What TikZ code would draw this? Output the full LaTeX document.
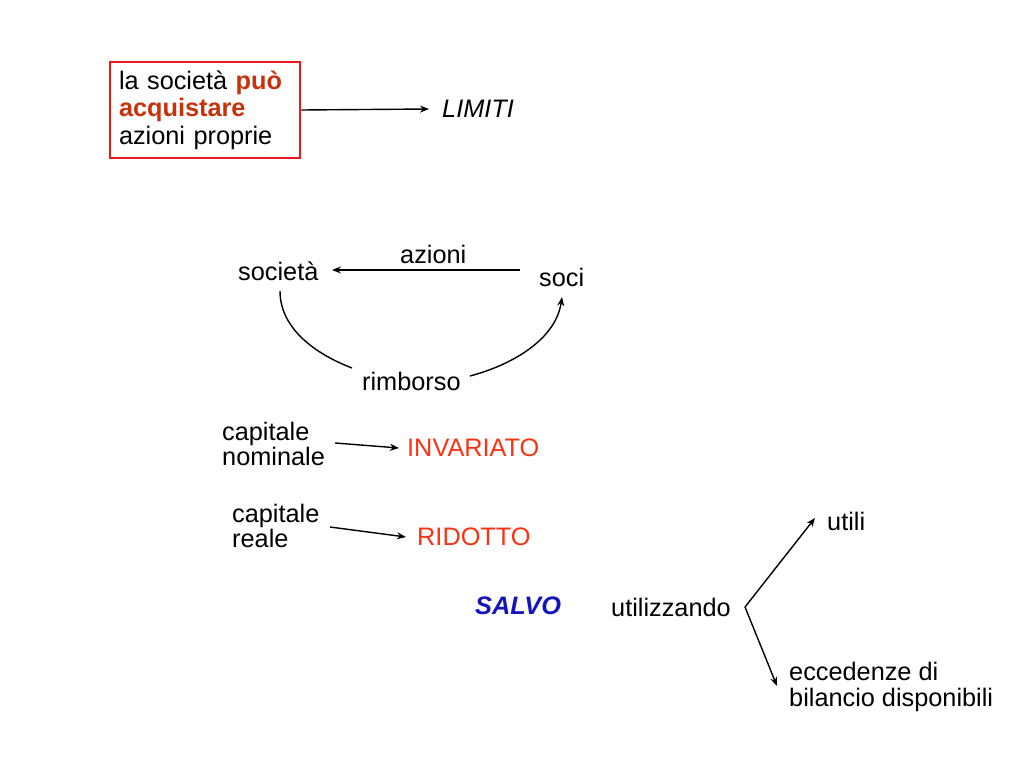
\documentclass[tikz,border=0pt]{standalone}
\usepackage{fontspec}
\setmainfont{Liberation Sans}
\usetikzlibrary{arrows.meta}
\definecolor{boxred}{RGB}{230,25,30}
\definecolor{darkorange}{RGB}{200,50,10}
\definecolor{redor}{RGB}{250,50,20}
\definecolor{salvoblue}{RGB}{20,20,190}
\tikzset{
  txt/.style={inner sep=0pt, font=\fontsize{25.3}{27.5}\selectfont, align=left},
  arr/.style={-{Stealth[length=9pt,width=7pt]}, line width=1.4pt},
  ln/.style={line width=1.4pt}
}
\begin{document}
\begin{tikzpicture}[x=1pt,y=-1pt]
\useasboundingbox (0,0) rectangle (1024,768);
% top box
\node[txt, draw=boxred, line width=2.5pt, minimum width=190pt, minimum height=96pt,
      text width=172pt, inner xsep=9pt] (box) at (205,110)
  {la società \textcolor{darkorange}{\textbf{può}}\\ \textcolor{darkorange}{\textbf{acquistare}}\\ azioni proprie};
\node[txt, anchor=west, font=\fontsize{25.3}{27.5}\selectfont\itshape] (limiti) at (442,109) {LIMITI};
\draw[arr] (box.east) -- ([xshift=-13pt]limiti.west);
% cycle
\node[txt, anchor=west] (soc) at (238,271) {società};
\node[txt, anchor=west] (azioni) at (400,254) {azioni};
\node[txt, anchor=west] (soci) at (539,277) {soci};
\node[txt, anchor=west] (rimb) at (362,381) {rimborso};
\coordinate (azS) at (520,270);
\coordinate (azE) at (332,270);
\draw[arr] (azS) -- (azE);
\coordinate (c1s) at (280,291);
\coordinate (c1e) at (352,368);
\draw[ln] (c1s) .. controls (280,330) and (318,355) .. (c1e);
\coordinate (c2s) at (470,376);
\coordinate (c2e) at (562,297);
\draw[arr] (c2s) .. controls (515,364) and (556,338) .. (c2e);
% capitale
\node[txt, anchor=west] (capnom) at (222,444) {capitale\\[-2pt]nominale};
\node[txt, anchor=west, text=redor] (inv) at (407,448) {INVARIATO};
\draw[arr] ([xshift=10pt,yshift=1pt]capnom.east) -- ([xshift=-8pt]inv.west);
\node[txt, anchor=west] (capre) at (232,526) {capitale\\[-2pt]reale};
\node[txt, anchor=west, text=redor] (rid) at (417,537) {RIDOTTO};
\coordinate (crS) at (330,527);
\draw[arr] (crS) -- ([xshift=-11pt]rid.west);
% salvo
\node[txt, anchor=west, text=salvoblue, font=\fontsize{25.3}{27.5}\selectfont\bfseries\itshape] (salvo) at (475,606) {SALVO};
\node[txt, anchor=west] (util) at (611,607) {utilizzando};
\coordinate (v) at (745,607);
\node[txt, anchor=west] (utili) at (827,521) {utili};
\node[txt, anchor=west] (ecc) at (789,687) {eccedenze di\\[-2pt]bilancio disponibili};
\draw[arr] (v) -- (815,518);
\draw[arr] (v) -- (777,686);
\end{tikzpicture}
\end{document}
